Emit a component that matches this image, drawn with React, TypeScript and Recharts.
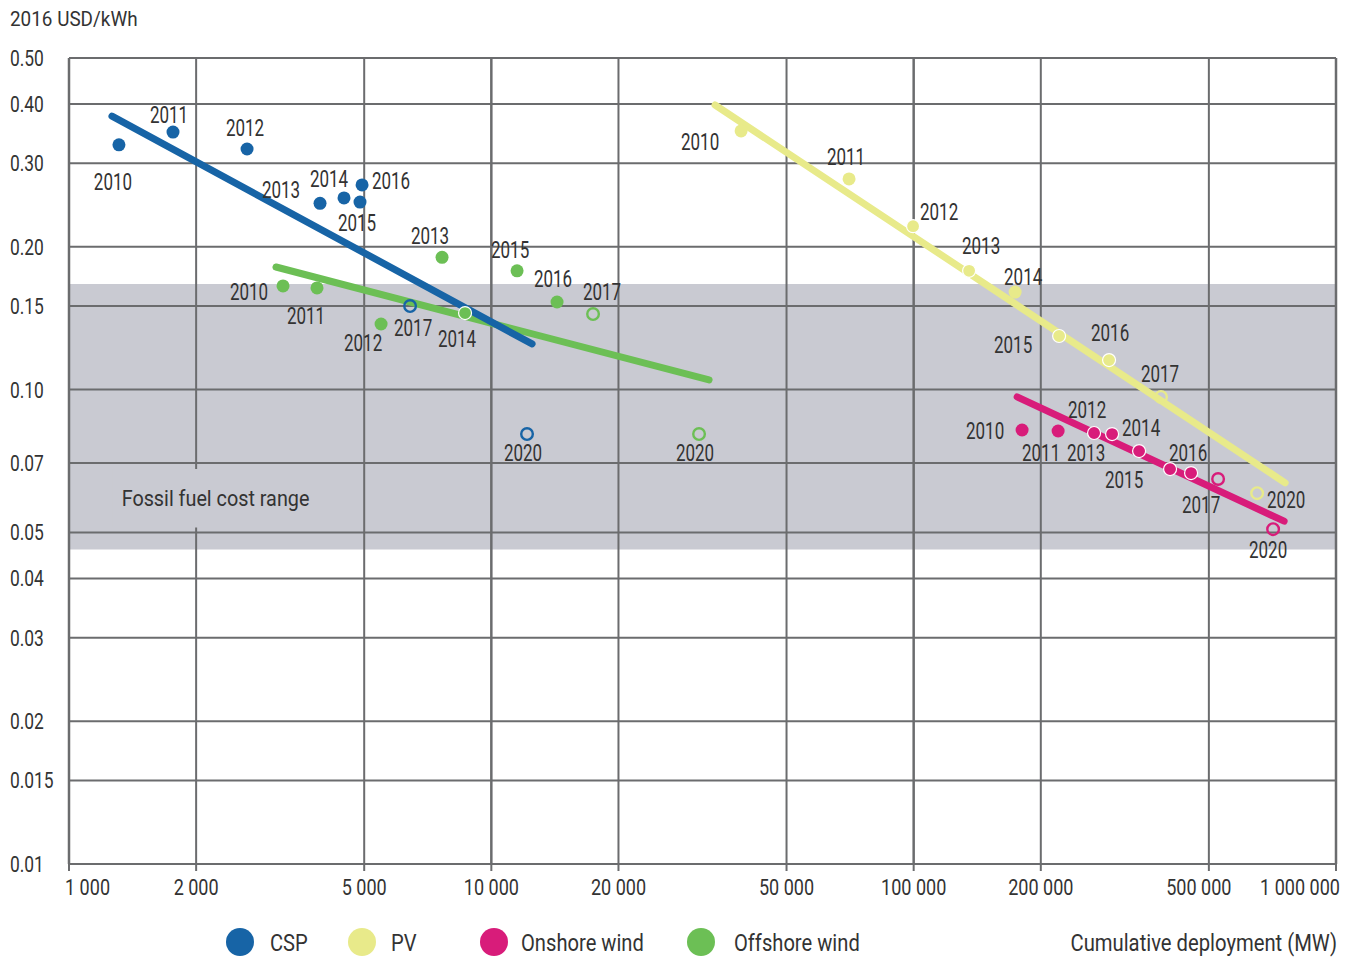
import React from 'react';
import { ScatterChart, Scatter, XAxis, YAxis, ReferenceArea, ReferenceLine } from 'recharts';

const FONT = 'Roboto, "DejaVu Sans Condensed", sans-serif';
const TEXT = '#333333';
const GRID = '#6b6c6e';
const BAND = '#c9cad2';

const COLORS = {
  csp: '#1764a6',
  pv: '#e8ea8a',
  onshore: '#d81c7a',
  offshore: '#6cbf55',
};

// ---------- axis ticks ----------
const xTicks = [1000, 2000, 5000, 10000, 20000, 50000, 100000, 200000, 500000, 1000000];
const xTickLabels = ['1 000', '2 000', '5 000', '10 000', '20 000', '50 000', '100 000', '200 000', '500 000', '1 000 000'];
const yTicks = [0.01, 0.015, 0.02, 0.03, 0.04, 0.05, 0.07, 0.1, 0.15, 0.2, 0.3, 0.4, 0.5];
const yTickLabels = ['0.01', '0.015', '0.02', '0.03', '0.04', '0.05', '0.07', '0.10', '0.15', '0.20', '0.30', '0.40', '0.50'];

// fossil fuel cost range (USD/kWh)
const fossilRange = [0.046, 0.167];

// ---------- series (cumulative MW, 2016 USD/kWh) ----------
const csp = [
  { year: '2010', mw: 1313, lcoe: 0.328, projected: false },
  { year: '2011', mw: 1763, lcoe: 0.349, projected: false },
  { year: '2012', mw: 2640, lcoe: 0.3215, projected: false },
  { year: '2013', mw: 3930, lcoe: 0.247, projected: false },
  { year: '2014', mw: 4479, lcoe: 0.2535, projected: false },
  { year: '2015', mw: 4887, lcoe: 0.2485, projected: false },
  { year: '2016', mw: 4942, lcoe: 0.27, projected: false },
  { year: '2017', mw: 6421, lcoe: 0.15, projected: true },
  { year: '2020', mw: 12148, lcoe: 0.0806, projected: true },
];
const cspTrend = [
  { mw: 1264, lcoe: 0.377 },
  { mw: 12487, lcoe: 0.1248 },
];

const offshore = [
  { year: '2010', mw: 3212, lcoe: 0.1654, projected: false },
  { year: '2011', mw: 3866, lcoe: 0.1638, projected: false },
  { year: '2012', mw: 5482, lcoe: 0.1375, projected: false },
  { year: '2013', mw: 7644, lcoe: 0.19, projected: false },
  { year: '2014', mw: 8665, lcoe: 0.145, projected: false },
  { year: '2015', mw: 11506, lcoe: 0.178, projected: false },
  { year: '2016', mw: 14308, lcoe: 0.153, projected: false },
  { year: '2017', mw: 17412, lcoe: 0.1443, projected: true },
  { year: '2020', mw: 31033, lcoe: 0.0806, projected: true },
];
const offshoreTrend = [
  { mw: 3091, lcoe: 0.1813 },
  { mw: 32776, lcoe: 0.1048 },
];

const pv = [
  { year: '2010', mw: 39030, lcoe: 0.351, projected: false },
  { year: '2011', mw: 70310, lcoe: 0.278, projected: false },
  { year: '2012', mw: 99680, lcoe: 0.221, projected: false },
  { year: '2013', mw: 135300, lcoe: 0.178, projected: false },
  { year: '2014', mw: 173900, lcoe: 0.1605, projected: false },
  { year: '2015', mw: 220990, lcoe: 0.1297, projected: false },
  { year: '2016', mw: 290200, lcoe: 0.1154, projected: false },
  { year: '2017', mw: 385200, lcoe: 0.0965, projected: true },
  { year: '2020', mw: 650500, lcoe: 0.0605, projected: true },
];
const pvTrend = [
  { mw: 33860, lcoe: 0.398 },
  { mw: 757800, lcoe: 0.0636 },
];

const onshore = [
  { year: '2010', mw: 180600, lcoe: 0.0822, projected: false },
  { year: '2011', mw: 219800, lcoe: 0.0818, projected: false },
  { year: '2012', mw: 267400, lcoe: 0.081, projected: false },
  { year: '2013', mw: 295000, lcoe: 0.0806, projected: false },
  { year: '2014', mw: 341800, lcoe: 0.0742, projected: false },
  { year: '2015', mw: 404700, lcoe: 0.068, projected: false },
  { year: '2016', mw: 453800, lcoe: 0.0667, projected: false },
  { year: '2017', mw: 525800, lcoe: 0.0648, projected: true },
  { year: '2020', mw: 709700, lcoe: 0.0508, projected: true },
];
const onshoreTrend = [
  { mw: 175800, lcoe: 0.0965 },
  { mw: 753600, lcoe: 0.0528 },
];

// ---------- label placement (px offsets from the dot) ----------
const cspLabelOffsets: Record<string, [number, number]> = {
  '2010': [-6, 37], '2011': [-4, -17], '2012': [-2, -21], '2013': [-39, -13], '2014': [-15, -19],
  '2015': [-3, 21], '2016': [29, -4], '2017': [3, 22], '2020': [-4, 19],
};
const offshoreLabelOffsets: Record<string, [number, number]> = {
  '2010': [-34, 6], '2011': [-11, 28], '2012': [-18, 19], '2013': [-12, -21], '2014': [-8, 26],
  '2015': [-7, -21], '2016': [-4, -23], '2017': [9, -22], '2020': [-4, 19],
};
const pvLabelOffsets: Record<string, [number, number]> = {
  '2010': [-41, 11], '2011': [-3, -22], '2012': [26, -14], '2013': [12, -25], '2014': [8, -15],
  '2015': [-46, 9], '2016': [1, -27], '2017': [-1, -23], '2020': [29, 7],
};
const onshoreLabelOffsets: Record<string, [number, number]> = {
  '2010': [-37, 1], '2011': [-17, 22], '2012': [-7, -23], '2013': [-26, 19], '2014': [2, -23],
  '2015': [-46, 11], '2016': [-3, -20], '2017': [-17, 26], '2020': [-5, 21],
};
const outlined: Record<string, string[]> = {
  csp: [],
  offshore: ['2014'],
  pv: ['2012', '2013', '2015', '2016', '2017', '2020'],
  onshore: ['2012', '2013', '2014', '2015', '2016'],
};

// condensed text helper (the reference uses a narrow typeface)
const CText = ({ x, y, size, sx, anchor = 'middle', children }: any) => (
  <text
    transform={`translate(${x},${y}) scale(${sx},1)`}
    x={0}
    y={0}
    textAnchor={anchor}
    fontFamily={FONT}
    fontSize={size}
    fill={TEXT}
  >
    {children}
  </text>
);

const makeDot = (color: string, offsets: Record<string, [number, number]>, outlinedYears: string[]) =>
  (props: any) => {
    const { cx, cy, payload } = props;
    if (cx == null || cy == null) return <g />;
    const off = offsets[payload.year] || [0, -20];
    const isOut = outlinedYears.includes(payload.year);
    return (
      <g>
        {payload.projected ? (
          <circle cx={cx} cy={cy} r={5.8} fill="none" stroke={color} strokeWidth={2.4} />
        ) : (
          <circle
            cx={cx}
            cy={cy}
            r={6.5}
            fill={color}
            stroke={isOut ? '#ffffff' : 'none'}
            strokeWidth={isOut ? 1.2 : 0}
          />
        )}
        <CText x={cx + off[0]} y={cy + off[1] + 8} size={23} sx={0.74}>
          {payload.year}
        </CText>
      </g>
    );
  };

const emptyShape = () => <g />;

const XTick = (props: any) => {
  const { x, y, payload } = props;
  const i = xTicks.indexOf(payload.value);
  let anchor: 'start' | 'middle' | 'end' = 'middle';
  let dx = 0;
  if (i === 0) { anchor = 'start'; dx = -4; }
  else if (i === xTicks.length - 1) { anchor = 'end'; dx = 4; }
  else if (payload.value === 500000) { dx = -10; }
  return (
    <CText x={x + dx} y={y + 22} size={22} sx={0.82} anchor={anchor}>
      {xTickLabels[i]}
    </CText>
  );
};

const YTick = (props: any) => {
  const { y, payload } = props;
  const i = yTicks.indexOf(payload.value);
  return (
    <CText x={10} y={y + 8} size={22} sx={0.79} anchor="start">
      {yTickLabels[i]}
    </CText>
  );
};

const FossilLabel = (props: any) => {
  const vb = props.viewBox || {};
  const cx = (vb.x || 0) + (vb.width || 0) / 2;
  const cy = (vb.y || 0) + (vb.height || 0) / 2;
  return (
    <CText x={cx} y={cy + 8} size={22} sx={0.9}>
      Fossil fuel cost range
    </CText>
  );
};

const legendItems = [
  { name: 'CSP', color: COLORS.csp, cx: 240, tx: 270 },
  { name: 'PV', color: COLORS.pv, cx: 362, tx: 391 },
  { name: 'Onshore wind', color: COLORS.onshore, cx: 494, tx: 521 },
  { name: 'Offshore wind', color: COLORS.offshore, cx: 701, tx: 734 },
];

export default function App() {
  return (
    <div style={{ position: 'absolute', left: 0, top: 0, width: 1349, height: 959, background: '#fff', fontFamily: FONT }}>
      <ScatterChart width={1349} height={959} margin={{ top: 58, right: 13, bottom: 55, left: 0 }}>
        <XAxis
          dataKey="mw"
          type="number"
          scale="log"
          domain={[1000, 1000000]}
          ticks={xTicks}
          interval={0}
          allowDataOverflow
          axisLine={false}
          tickLine={{ stroke: GRID, strokeWidth: 2 }}
          tickSize={7}
          height={40}
          tick={<XTick />}
        />
        <YAxis
          dataKey="lcoe"
          type="number"
          scale="log"
          domain={[0.01, 0.5]}
          ticks={yTicks}
          interval={0}
          allowDataOverflow
          axisLine={false}
          tickLine={false}
          width={69}
          tick={<YTick />}
        />
        <ReferenceArea
          x1={1000}
          x2={1000000}
          y1={fossilRange[0]}
          y2={fossilRange[1]}
          fill={BAND}
          fillOpacity={1}
          stroke="none"
          ifOverflow="visible"
          zIndex={-30}
        />
        {yTicks.map((v) => (
          <ReferenceLine key={'h' + v} y={v} stroke={GRID} strokeWidth={2} ifOverflow="visible" zIndex={-20} />
        ))}
        {xTicks.map((v) => (
          <ReferenceLine
            key={'v' + v}
            x={v}
            stroke={GRID}
            strokeWidth={v === 10000 || v === 100000 || v === 1000 || v === 1000000 ? 2.5 : 2}
            ifOverflow="visible"
            zIndex={-20}
          />
        ))}
        <ReferenceArea
          x1={1271}
          x2={3888}
          y1={0.0512}
          y2={0.068}
          fill={BAND}
          fillOpacity={1}
          stroke="none"
          ifOverflow="visible"
          zIndex={-10}
          label={<FossilLabel />}
        />

        <Scatter data={offshoreTrend} line={{ stroke: COLORS.offshore, strokeWidth: 7, strokeLinecap: 'round' }} shape={emptyShape} isAnimationActive={false} />
        <Scatter data={cspTrend} line={{ stroke: COLORS.csp, strokeWidth: 7, strokeLinecap: 'round' }} shape={emptyShape} isAnimationActive={false} />
        <Scatter data={pvTrend} line={{ stroke: COLORS.pv, strokeWidth: 7, strokeLinecap: 'round' }} shape={emptyShape} isAnimationActive={false} />
        <Scatter data={onshoreTrend} line={{ stroke: COLORS.onshore, strokeWidth: 7, strokeLinecap: 'round' }} shape={emptyShape} isAnimationActive={false} />

        <Scatter data={pv} shape={makeDot(COLORS.pv, pvLabelOffsets, outlined.pv)} isAnimationActive={false} />
        <Scatter data={onshore} shape={makeDot(COLORS.onshore, onshoreLabelOffsets, outlined.onshore)} isAnimationActive={false} />
        <Scatter data={csp} shape={makeDot(COLORS.csp, cspLabelOffsets, outlined.csp)} isAnimationActive={false} />
        <Scatter data={offshore} shape={makeDot(COLORS.offshore, offshoreLabelOffsets, outlined.offshore)} isAnimationActive={false} />
      </ScatterChart>

      <svg width={1349} height={959} style={{ position: 'absolute', left: 0, top: 0, pointerEvents: 'none' }}>
        <CText x={10} y={26} size={21} sx={0.9} anchor="start">2016 USD/kWh</CText>
        {legendItems.map((it) => (
          <g key={it.name}>
            <circle cx={it.cx} cy={942} r={14} fill={it.color} />
            <CText x={it.tx} y={951} size={24} sx={0.84} anchor="start">{it.name}</CText>
          </g>
        ))}
        <CText x={1337} y={951} size={23} sx={0.88} anchor="end">Cumulative deployment (MW)</CText>
      </svg>
    </div>
  );
}
